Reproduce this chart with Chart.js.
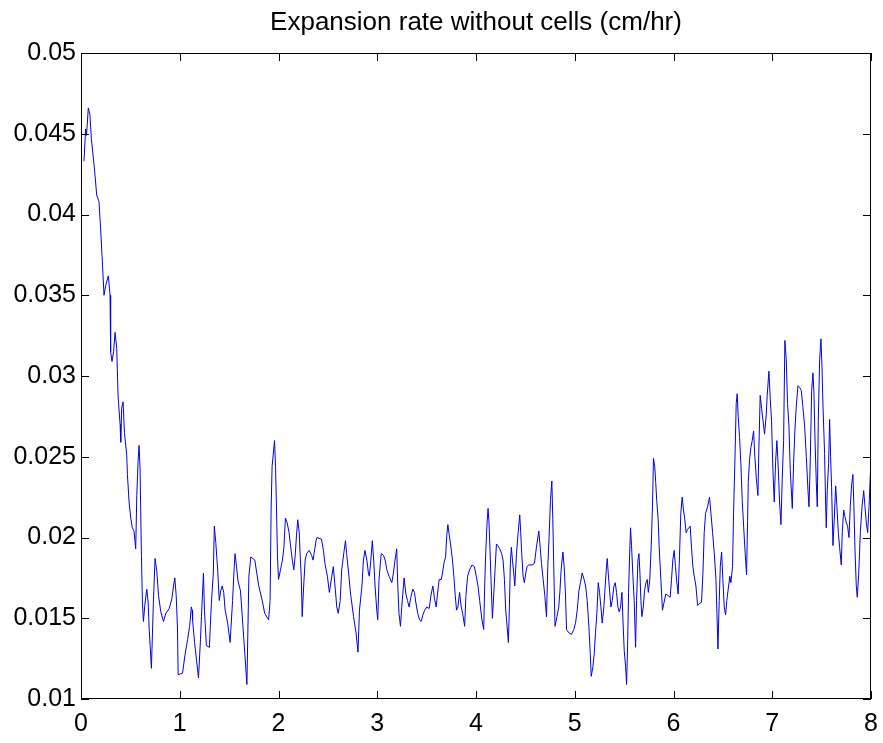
<!DOCTYPE html>
<html>
<head>
<meta charset="utf-8">
<title>Expansion rate without cells</title>
<script src="https://cdn.jsdelivr.net/npm/chart.js@4/dist/chart.umd.min.js"></script>
<style>
  html, body { margin: 0; padding: 0; background: #fff; }
  #wrap { width: 883px; height: 743px; }
</style>
</head>
<body>
<div id="wrap"><canvas id="chart" width="883" height="743"></canvas></div>
<script>
// values (time in hr, rate in cm/hr)
const timeHr = [
  0.03, 0.047, 0.056, 0.074, 0.09, 0.105, 0.125, 0.138, 0.159, 0.182, 0.199, 0.216, 0.233, 0.25, 0.277, 0.294,
  0.30, 0.314, 0.33, 0.345, 0.362, 0.375, 0.396, 0.402, 0.412, 0.426, 0.44, 0.463, 0.47, 0.487, 0.504, 0.52,
  0.537, 0.554, 0.565, 0.578, 0.588, 0.598, 0.612, 0.622, 0.632, 0.646, 0.666, 0.68, 0.69, 0.70, 0.713, 0.733,
  0.75, 0.768, 0.785, 0.808, 0.835, 0.859, 0.893, 0.92, 0.937, 0.95, 0.964, 0.977, 0.984, 1.028, 1.055, 1.08,
  1.10,
  1.117, 1.125, 1.13, 1.15, 1.19, 1.21, 1.22, 1.24, 1.25, 1.27, 1.30, 1.32, 1.34, 1.35, 1.365, 1.385,
  1.40, 1.415, 1.43, 1.445, 1.46, 1.485, 1.51, 1.535, 1.55, 1.56, 1.575, 1.59, 1.615, 1.64, 1.68, 1.70,
  1.72, 1.76, 1.80, 1.835, 1.86, 1.90, 1.915, 1.925, 1.935, 1.96, 1.97, 1.98, 1.99, 2.00, 2.02, 2.04,
  2.055, 2.07, 2.088, 2.107, 2.12, 2.14, 2.155, 2.168, 2.182, 2.195, 2.21, 2.22, 2.23, 2.24, 2.255, 2.27,
  2.285, 2.31, 2.335, 2.35, 2.36, 2.38, 2.39, 2.435, 2.455, 2.47, 2.495, 2.515, 2.54, 2.555, 2.575, 2.59,
  2.605, 2.625, 2.64, 2.665, 2.678, 2.69, 2.71, 2.73, 2.76, 2.785, 2.805, 2.82, 2.845, 2.86, 2.875, 2.895,
  2.91, 2.92, 2.935, 2.95, 2.965, 2.978, 2.995, 3.005, 3.018, 3.04, 3.063, 3.08, 3.097, 3.12, 3.147, 3.164,
  3.18, 3.197, 3.208, 3.22, 3.235, 3.248, 3.272, 3.29, 3.306, 3.323, 3.34, 3.36, 3.377, 3.39, 3.41, 3.428,
  3.445, 3.462, 3.48, 3.502, 3.526, 3.546, 3.563, 3.58, 3.597, 3.61, 3.627, 3.648, 3.661, 3.675, 3.692, 3.705,
  3.715, 3.728, 3.742, 3.762, 3.776, 3.79, 3.803, 3.817, 3.834, 3.85, 3.865, 3.885, 3.898, 3.915, 3.935, 3.96,
  3.983, 4.003, 4.02, 4.037, 4.06, 4.078, 4.088, 4.098, 4.112, 4.122, 4.132, 4.142, 4.152, 4.166, 4.18, 4.193,
  4.207, 4.22, 4.24, 4.26, 4.274, 4.288, 4.301, 4.315, 4.328, 4.338, 4.348, 4.358, 4.369, 4.382, 4.393, 4.41,
  4.427, 4.443, 4.453, 4.463, 4.477, 4.49, 4.504, 4.517, 4.534, 4.568, 4.592, 4.612, 4.636, 4.646, 4.663, 4.68,
  4.697, 4.714, 4.727, 4.74, 4.754, 4.768, 4.778, 4.788, 4.80, 4.82, 4.838, 4.85, 4.862, 4.88, 4.893, 4.906,
  4.917, 4.94, 4.967, 4.99, 5.008, 5.025, 5.042, 5.058, 5.075, 5.095, 5.11, 5.126, 5.143, 5.157, 5.167, 5.184,
  5.197, 5.21, 5.224, 5.238, 5.251, 5.265, 5.278, 5.295, 5.305, 5.319, 5.329, 5.339, 5.353, 5.366, 5.38, 5.397,
  5.41, 5.423, 5.437, 5.45, 5.464, 5.478, 5.488, 5.501, 5.515, 5.525, 5.535, 5.545, 5.555, 5.565, 5.575, 5.589,
  5.602, 5.616, 5.626, 5.64, 5.65, 5.66, 5.67, 5.68, 5.694, 5.707, 5.721, 5.734, 5.745, 5.76, 5.775, 5.787,
  5.797, 5.81, 5.82, 5.83, 5.845, 5.855, 5.872, 5.888, 5.905, 5.922, 5.946, 5.966, 5.98, 5.993, 6.007, 6.02,
  6.034, 6.047, 6.061, 6.074, 6.088, 6.101, 6.115, 6.128, 6.142, 6.169, 6.182, 6.196, 6.21, 6.227, 6.244, 6.26,
  6.284, 6.298, 6.311, 6.325, 6.345, 6.365, 6.379, 6.396, 6.413, 6.43, 6.44, 6.45, 6.463, 6.474, 6.487, 6.50,
  6.514, 6.527, 6.54, 6.554, 6.571, 6.581, 6.598, 6.608, 6.622, 6.635, 6.645, 6.655, 6.669, 6.682, 6.696, 6.71,
  6.726, 6.74, 6.75, 6.757, 6.77, 6.784, 6.797, 6.811, 6.824, 6.838, 6.855, 6.865, 6.878, 6.892, 6.905, 6.922,
  6.939, 6.949, 6.966, 6.98, 6.993, 7.007, 7.02, 7.034, 7.047, 7.061, 7.074, 7.088, 7.101, 7.115, 7.128, 7.142,
  7.155, 7.169, 7.182, 7.203, 7.216, 7.23, 7.243, 7.26, 7.277, 7.294, 7.31, 7.328, 7.345, 7.362, 7.372, 7.385,
  7.399, 7.412, 7.422, 7.433, 7.446, 7.456, 7.466, 7.48, 7.493, 7.503, 7.514, 7.53, 7.541, 7.547, 7.557, 7.571,
  7.581, 7.591, 7.601, 7.615, 7.628, 7.642, 7.655, 7.669, 7.682, 7.699, 7.709, 7.723, 7.736, 7.75, 7.763, 7.777,
  7.79, 7.804, 7.817, 7.827, 7.838, 7.851, 7.861, 7.875, 7.892, 7.909, 7.926, 7.939, 7.953, 7.966, 7.98, 7.993,
  8.0
];
const rate = [
  0.0433, 0.0453, 0.0449, 0.0466, 0.0462, 0.0447, 0.0435, 0.0427, 0.0412, 0.0408, 0.0391, 0.0371, 0.0350, 0.0356, 0.0362, 0.0350,
  0.0315, 0.0309, 0.0315, 0.0327, 0.0317, 0.0288, 0.0270, 0.0259, 0.0280, 0.0284, 0.0265, 0.0251, 0.0239, 0.0222, 0.0212, 0.0206,
  0.0204, 0.0193, 0.0226, 0.0247, 0.0257, 0.0243, 0.0189, 0.0160, 0.0148, 0.0158, 0.0168, 0.0160, 0.0144, 0.0133, 0.0119, 0.0160,
  0.0187, 0.0179, 0.0164, 0.0154, 0.0148, 0.0153, 0.0156, 0.0162, 0.0170, 0.0175, 0.0164, 0.0144, 0.0115, 0.0116, 0.0128, 0.0137,
  0.0145,
  0.0157, 0.0155, 0.0149, 0.0135, 0.0113, 0.0137, 0.0151, 0.0178, 0.0155, 0.0133, 0.0132, 0.0159, 0.0178, 0.0207, 0.0197, 0.0179,
  0.0161, 0.0167, 0.0170, 0.0166, 0.0155, 0.0147, 0.0135, 0.0161, 0.0180, 0.0190, 0.0182, 0.0173, 0.0167, 0.0145, 0.0109, 0.0176,
  0.0188, 0.0186, 0.0170, 0.0161, 0.0153, 0.0149, 0.0161, 0.0217, 0.0244, 0.0260, 0.0244, 0.0217, 0.0188, 0.0174, 0.0180, 0.0186,
  0.0194, 0.0212, 0.0209, 0.0203, 0.0196, 0.0186, 0.0180, 0.0188, 0.0201, 0.0211, 0.0203, 0.0188, 0.0176, 0.0151, 0.0170, 0.0186,
  0.0190, 0.0192, 0.0189, 0.0186, 0.0190, 0.0198, 0.0200, 0.0199, 0.0192, 0.0184, 0.0176, 0.0166, 0.0176, 0.0182, 0.0168, 0.0157,
  0.0153, 0.0161, 0.0180, 0.0192, 0.0198, 0.0190, 0.0178, 0.0165, 0.0151, 0.0141, 0.0129, 0.0155, 0.0170, 0.0186, 0.0192, 0.0186,
  0.0178, 0.0176, 0.0186, 0.0198, 0.0185, 0.0170, 0.0155, 0.0149, 0.0174, 0.0190, 0.0189, 0.0186, 0.0180, 0.0176, 0.0172, 0.0178,
  0.0186, 0.0193, 0.0170, 0.0153, 0.0145, 0.0157, 0.0175, 0.0165, 0.0161, 0.0157, 0.0163, 0.0168, 0.0166, 0.0160, 0.0153, 0.0149,
  0.0148, 0.0152, 0.0155, 0.0157, 0.0156, 0.0165, 0.0170, 0.0162, 0.0157, 0.0165, 0.0174, 0.0174, 0.0178, 0.0184, 0.0188, 0.0202,
  0.0208, 0.0202, 0.0196, 0.0186, 0.0176, 0.0164, 0.0155, 0.0157, 0.0166, 0.0157, 0.0153, 0.0145, 0.0164, 0.0176, 0.0180, 0.0183,
  0.0182, 0.0176, 0.0170, 0.0161, 0.0149, 0.0143, 0.0170, 0.0190, 0.0209, 0.0218, 0.0209, 0.0192, 0.0174, 0.0150, 0.0165, 0.0180,
  0.0196, 0.0195, 0.0193, 0.0190, 0.0186, 0.0174, 0.0155, 0.0145, 0.0135, 0.0157, 0.0184, 0.0194, 0.0186, 0.0178, 0.0170, 0.0190,
  0.0203, 0.0214, 0.0203, 0.0190, 0.0176, 0.0172, 0.0178, 0.0182, 0.0183, 0.0183, 0.0184, 0.0194, 0.0204, 0.0197, 0.0184, 0.0174,
  0.0164, 0.0151, 0.0182, 0.0200, 0.0223, 0.0235, 0.0211, 0.0180, 0.0145, 0.0151, 0.0157, 0.0167, 0.0180, 0.0191, 0.0182, 0.0165,
  0.0143, 0.0141, 0.0140, 0.0143, 0.0147, 0.0155, 0.0167, 0.0172, 0.0178, 0.0174, 0.0170, 0.0161, 0.0145, 0.0128, 0.0114, 0.0120,
  0.0128, 0.0141, 0.0153, 0.0172, 0.0166, 0.0157, 0.0147, 0.0157, 0.0167, 0.0180, 0.0187, 0.0178, 0.0167, 0.0157, 0.0161, 0.0170,
  0.0172, 0.0166, 0.0157, 0.0154, 0.0157, 0.0166, 0.0149, 0.0130, 0.0120, 0.0109, 0.0133, 0.0166, 0.0188, 0.0206, 0.0195, 0.0176,
  0.0161, 0.0132, 0.0161, 0.0186, 0.0190, 0.0178, 0.0161, 0.0151, 0.0157, 0.0167, 0.0172, 0.0174, 0.0166, 0.0174, 0.0196, 0.0219,
  0.0249, 0.0244, 0.0234, 0.0223, 0.0211, 0.0194, 0.0174, 0.0155, 0.0160, 0.0165, 0.0164, 0.0163, 0.0174, 0.0186, 0.0192, 0.0182,
  0.0172, 0.0165, 0.0189, 0.0215, 0.0225, 0.0217, 0.0211, 0.0203, 0.0205, 0.0207, 0.0194, 0.0182, 0.0176, 0.0170, 0.0158, 0.0159,
  0.0160, 0.0178, 0.0203, 0.0215, 0.0219, 0.0225, 0.0215, 0.0203, 0.0190, 0.0174, 0.0153, 0.0131, 0.0161, 0.0182, 0.0191, 0.0174,
  0.0157, 0.0152, 0.0161, 0.0168, 0.0176, 0.0172, 0.0182, 0.0215, 0.0248, 0.0283, 0.0289, 0.0275, 0.0262, 0.0246, 0.0223, 0.0207,
  0.0190, 0.0177, 0.0210, 0.0234, 0.0248, 0.0256, 0.0260, 0.0266, 0.0250, 0.0237, 0.0226, 0.0256, 0.0288, 0.0280, 0.0273, 0.0264,
  0.0276, 0.0288, 0.0303, 0.0286, 0.0272, 0.0241, 0.0222, 0.0247, 0.0260, 0.0243, 0.0222, 0.0208, 0.0236, 0.0260, 0.0322, 0.0310,
  0.0283, 0.0269, 0.0242, 0.0218, 0.0246, 0.0267, 0.0281, 0.0294, 0.0293, 0.0291, 0.0281, 0.0269, 0.0250, 0.0229, 0.0219, 0.0248,
  0.0291, 0.0302, 0.0290, 0.0261, 0.0234, 0.0219, 0.0272, 0.0310, 0.0323, 0.0307, 0.0281, 0.0252, 0.0219, 0.0206, 0.0229, 0.0246,
  0.0273, 0.0250, 0.0231, 0.0195, 0.0211, 0.0232, 0.0219, 0.0203, 0.0194, 0.0183, 0.0203, 0.0217, 0.0213, 0.0209, 0.0207, 0.0200,
  0.0219, 0.0233, 0.0239, 0.0219, 0.0192, 0.0170, 0.0163, 0.0177, 0.0203, 0.0219, 0.0229, 0.0219, 0.0209, 0.0203, 0.0219, 0.0238,
  0.0252
];
const xTicks = [0, 1, 2, 3, 4, 5, 6, 7, 8];
const yTicks = [0.01, 0.015, 0.02, 0.025, 0.03, 0.035, 0.04, 0.045, 0.05];
const titleText = "Expansion rate without cells (cm/hr)";

const fontFamily = "Arial, 'Liberation Sans', sans-serif";
const tickFont = { family: fontFamily, size: 25 };

// matlab style box, ticks pointing inwards, title centred over the axes
const boxTicks = {
  id: "boxTicks",
  afterDraw(chart) {
    const { ctx, chartArea: a, scales: { x, y } } = chart;
    const len = 8;
    ctx.save();
    ctx.strokeStyle = "#000";
    ctx.lineWidth = 1;
    ctx.strokeRect(a.left + 0.5, a.top + 0.5, a.right - a.left - 1, a.bottom - a.top - 1);
    ctx.beginPath();
    x.ticks.forEach((t) => {
      const px = Math.round(x.getPixelForValue(t.value)) + 0.5;
      ctx.moveTo(px, a.bottom); ctx.lineTo(px, a.bottom - len);
      ctx.moveTo(px, a.top); ctx.lineTo(px, a.top + len);
    });
    y.ticks.forEach((t) => {
      const py = Math.round(y.getPixelForValue(t.value)) + 0.5;
      ctx.moveTo(a.left, py); ctx.lineTo(a.left + len, py);
      ctx.moveTo(a.right, py); ctx.lineTo(a.right - len, py);
    });
    ctx.stroke();

    ctx.fillStyle = "#000";
    ctx.font = "26px " + fontFamily;
    ctx.textAlign = "center";
    ctx.textBaseline = "middle";
    ctx.fillText(titleText, (a.left + a.right) / 2, 23);
    ctx.restore();
  }
};

new Chart(document.getElementById("chart"), {
  type: "scatter",
  data: {
    datasets: [{
      data: timeHr.map((t, i) => ({ x: t, y: rate[i] })),
      showLine: true,
      borderColor: "#0000e6",
      borderWidth: 1,
      pointRadius: 0,
      tension: 0,
    }],
  },
  options: {
    responsive: false,
    animation: false,
    devicePixelRatio: 1,
    layout: { padding: { left: 0, right: 12, top: 53, bottom: 0 } },
    plugins: {
      legend: { display: false },
      tooltip: { enabled: false },
      title: { display: false },
    },
    scales: {
      x: {
        type: "linear",
        min: 0,
        max: 8,
        afterBuildTicks: (s) => { s.ticks = xTicks.map((v) => ({ value: v })); },
        afterFit: (s) => { s.height = 44; s.paddingRight = 0; s.paddingLeft = 0; },
        grid: { display: false, drawTicks: false },
        border: { display: false },
        ticks: { color: "#000", font: tickFont, padding: 10, autoSkip: false, maxRotation: 0 },
      },
      y: {
        min: 0.01,
        max: 0.05,
        afterBuildTicks: (s) => { s.ticks = yTicks.map((v) => ({ value: v })); },
        afterFit: (s) => { s.width = 81; s.paddingTop = 0; s.paddingBottom = 0; },
        grid: { display: false, drawTicks: false },
        border: { display: false },
        ticks: {
          color: "#000",
          font: tickFont,
          padding: 5,
          autoSkip: false,
          callback: (v) => String(+Number(v).toFixed(3)),
        },
      },
    },
  },
  plugins: [boxTicks],
});
</script>
</body>
</html>
